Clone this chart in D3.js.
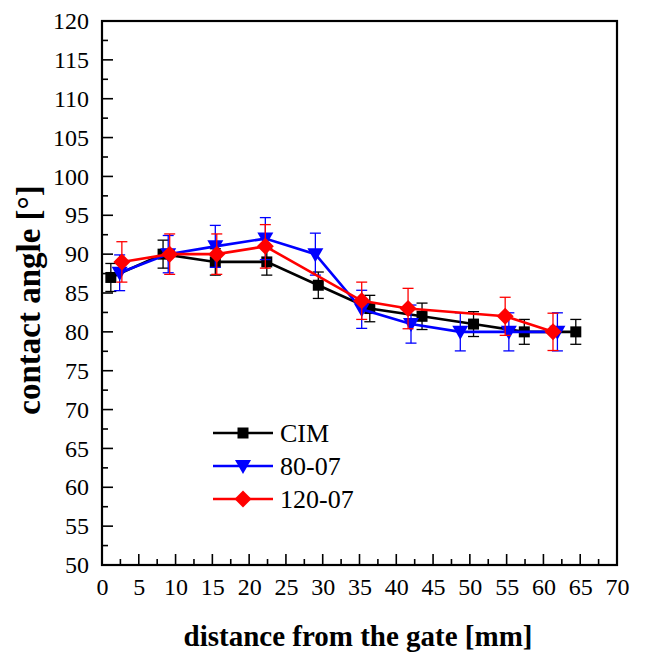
<!DOCTYPE html>
<html>
<head>
<meta charset="utf-8">
<script src="https://cdn.jsdelivr.net/npm/d3@7/dist/d3.min.js"></script>
<style>
  html, body { margin: 0; padding: 0; background: #fff; }
  svg { display: block; }
  svg text { font-family: 'Liberation Serif', 'Times New Roman', Times, serif !important; fill: #000; }
</style>
</head>
<body>
<svg id="chart" width="645" height="660"></svg>
<script>
// ---- data ----
const seriesNames = ["CIM", "80-07", "120-07"];

const cimX   = [1.2, 8.3, 15.4, 22.4, 29.4, 36.4, 43.5, 50.5, 57.4, 64.4];
const cimY   = [87, 90, 89, 89, 86, 83, 82, 81, 80, 80];
const cimErr = [1.8, 1.8, 1.7, 1.7, 1.7, 1.7, 1.7, 1.6, 1.6, 1.6];

const b80X   = [2.4, 9.0, 15.4, 22.2, 29.0, 35.3, 42.0, 48.7, 55.3, 61.9];
const b80Y   = [87.6, 90, 91, 92, 90, 82.9, 81, 80, 80, 80];
const b80Err = [2.3, 2.4, 2.7, 2.7, 2.7, 2.45, 2.45, 2.45, 2.45, 2.45];

const r120X   = [2.7, 9.2, 15.6, 22.2, 35.3, 41.6, 54.8, 61.3];
const r120Y   = [89, 90, 90, 91, 84, 83, 82, 80];
const r120Err = [2.6, 2.6, 2.6, 2.8, 2.4, 2.6, 2.45, 2.4];

const xTicks = [0, 5, 10, 15, 20, 25, 30, 35, 40, 45, 50, 55, 60, 65, 70];
const yTicks = [50, 55, 60, 65, 70, 75, 80, 85, 90, 95, 100, 105, 110, 115, 120];

const xTitle = "distance from the gate [mm]";
const yTitle = "contact angle [°]";

// ---- layout ----
const FONT = "'Liberation Serif', 'Times New Roman', Times, serif";
const svg = d3.select("#chart");
const pL = 102, pR = 617, pT = 21, pB = 565;

const x = d3.scaleLinear().domain([0, 70]).range([pL, pR]);
const y = d3.scaleLinear().domain([50, 120]).range([pB, pT]);

const series = [
  { name: seriesNames[0], xs: cimX, ys: cimY, es: cimErr, color: "#000000", marker: "square" },
  { name: seriesNames[1], xs: b80X, ys: b80Y, es: b80Err, color: "#0000ff", marker: "tri" },
  { name: seriesNames[2], xs: r120X, ys: r120Y, es: r120Err, color: "#ff0000", marker: "diamond" }
];

function markerPath(type) {
  if (type === "square") return "M-5.5,-5.5H5.5V5.5H-5.5Z";
  if (type === "tri") return "M-8,-6L8,-6L0,8Z";
  return "M0,-8.5L8.5,0L0,8.5L-8.5,0Z";
}

// ---- axes ----
const minorX = d3.range(0, 70.01, 2.5);
const minorY = d3.range(50, 120.01, 2.5);

const gx = svg.append("g").attr("transform", `translate(0,${pB})`);
minorX.forEach(v => {
  const major = Math.abs(v % 5) < 1e-6;
  gx.append("line").attr("x1", x(v)).attr("x2", x(v))
    .attr("y1", 0).attr("y2", major ? -11 : -6)
    .attr("stroke", "#000").attr("stroke-width", 1.6);
});
svg.append("g").attr("transform", `translate(0,${pB})`)
  .attr("font-family", FONT)
  .call(d3.axisBottom(x).tickValues(xTicks).tickSize(0).tickPadding(13).tickFormat(d3.format("d")))
  .call(g => g.select(".domain").remove())
  .selectAll("text").style("font-size", "24px").style("font-family", FONT).attr("fill", "#000");

const gy = svg.append("g").attr("transform", `translate(${pL},0)`);
minorY.forEach(v => {
  const major = Math.abs(v % 5) < 1e-6;
  gy.append("line").attr("y1", y(v)).attr("y2", y(v))
    .attr("x1", 0).attr("x2", major ? 11 : 6)
    .attr("stroke", "#000").attr("stroke-width", 1.6);
});
svg.append("g").attr("transform", `translate(${pL},0)`)
  .attr("font-family", FONT)
  .call(d3.axisLeft(y).tickValues(yTicks).tickSize(0).tickPadding(13).tickFormat(d3.format("d")))
  .call(g => g.select(".domain").remove())
  .selectAll("text").style("font-size", "24px").style("font-family", FONT).attr("fill", "#000");

// frame
svg.append("rect").attr("x", pL).attr("y", pT)
  .attr("width", pR - pL).attr("height", pB - pT)
  .attr("fill", "none").attr("stroke", "#000").attr("stroke-width", 2.2);

// titles
svg.append("text").attr("x", 358).attr("y", 646)
  .attr("text-anchor", "middle").style("font-size", "29px").style("font-weight", "bold")
  .style("font-family", FONT).text(xTitle);
svg.append("text").attr("transform", `translate(40,300) rotate(-90)`)
  .attr("text-anchor", "middle").style("font-size", "33px").style("font-weight", "bold")
  .style("font-family", FONT).text(yTitle);

// ---- series ----
series.forEach(s => {
  const g = svg.append("g");
  const pts = s.xs.map((xv, i) => ({ x: xv, y: s.ys[i], e: s.es[i] }));
  pts.forEach(p => {
    const cx = x(p.x);
    g.append("line").attr("x1", cx).attr("x2", cx).attr("y1", y(p.y + p.e)).attr("y2", y(p.y - p.e))
      .attr("stroke", s.color).attr("stroke-width", 1.3);
    [p.y + p.e, p.y - p.e].forEach(v => {
      g.append("line").attr("x1", cx - 5.5).attr("x2", cx + 5.5).attr("y1", y(v)).attr("y2", y(v))
        .attr("stroke", s.color).attr("stroke-width", 1.3);
    });
  });
  g.append("path").datum(pts)
    .attr("d", d3.line().x(p => x(p.x)).y(p => y(p.y)))
    .attr("fill", "none").attr("stroke", s.color).attr("stroke-width", 2.6);
  g.selectAll("path.m").data(pts).enter().append("path").attr("class", "m")
    .attr("transform", p => `translate(${x(p.x)},${y(p.y)})`)
    .attr("d", markerPath(s.marker)).attr("fill", s.color);
});

// ---- legend ----
const legY = [433, 466, 499];
series.forEach((s, i) => {
  const g = svg.append("g").attr("transform", `translate(0,${legY[i]})`);
  g.append("line").attr("x1", 213).attr("x2", 273).attr("y1", 0).attr("y2", 0)
    .attr("stroke", s.color).attr("stroke-width", 2.6);
  g.append("path").attr("transform", "translate(243,0)").attr("d", markerPath(s.marker)).attr("fill", s.color);
  g.append("text").attr("x", 280).attr("y", 0).attr("dy", "0.35em")
    .style("font-size", "26px").style("font-family", FONT).text(s.name);
});
</script>
</body>
</html>
